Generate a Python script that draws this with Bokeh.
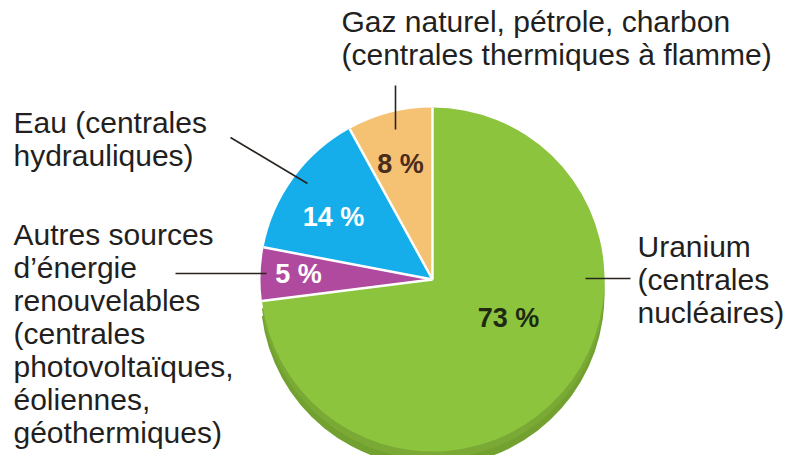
import numpy as np
from bokeh.plotting import figure
from bokeh.models import Range1d, ColumnDataSource
from bokeh.core.properties import value
from bokeh.embed import file_html
from bokeh.resources import INLINE

# ---- data (clockwise from 12 o'clock) ----
categories = ["Uranium", "Autres sources", "Eau", "Gaz naturel"]
shares = [73, 5, 14, 8]
pct_labels = ["73 %", "5 %", "14 %", "8 %"]
slice_colors = ["#8cc43e", "#b04a9e", "#16aeea", "#f5c274"]
pct_colors = ["#1e2a12", "#ffffff", "#ffffff", "#4a2c1c"]

label_lines = {
    "Gaz naturel": ["Gaz naturel, pétrole, charbon", "(centrales thermiques à flamme)"],
    "Eau": ["Eau (centrales", "hydrauliques)"],
    "Autres sources": ["Autres sources", "d\u2019énergie", "renouvelables", "(centrales",
                       "photovoltaïques,", "éoliennes,", "géothermiques)"],
    "Uranium": ["Uranium", "(centrales", "nucléaires)"],
}

# ---- layout (picture pixels, origin top-left) ----
W, H = 787, 455
def Y(py):
    return H - py

CX, CY, R = 432, 279, 172
DEPTH = 15
FS = 30
# (left x, first baseline y)
label_pos = {"Gaz naturel": (341, 32), "Eau": (13, 133), "Autres sources": (13, 245), "Uranium": (637, 257)}
LINE_STEP = 33
MID_SHIFT = 11   # baseline -> visual middle of capitals
pct_pos = [(508, 317), (298, 273), (333, 216), (400, 163)]
leaders = [((395, 85), (395, 129)), ((230, 137), (307, 183)),
           ((175, 273), (266, 273)), ((585, 278), (630, 278))]

p = figure(width=W, height=H, x_range=Range1d(0, W), y_range=Range1d(0, H),
           output_backend="svg", toolbar_location=None, min_border=0,
           x_axis_type=None, y_axis_type=None)
p.grid.visible = False
p.outline_line_color = None
p.background_fill_color = "white"
p.border_fill_color = "white"

vals = np.array(shares, dtype=float)
cum = np.concatenate([[0], np.cumsum(vals)]) / vals.sum()
starts = np.pi / 2 - 2 * np.pi * cum[:-1]
ends = np.pi / 2 - 2 * np.pi * cum[1:]

# 3D side (thickness) under the big slice
p.wedge(x=CX, y=Y(CY + DEPTH), radius=R, start_angle=starts[0], end_angle=ends[0],
        direction="clock", fill_color="#72a130", line_color=None)
p.wedge(x=CX, y=Y(CY + DEPTH * 0.5), radius=R, start_angle=starts[0], end_angle=ends[0],
        direction="clock", fill_color="#7aaa35", line_color=None)

src = ColumnDataSource(dict(start=starts, end=ends, color=slice_colors, cat=categories))
p.wedge(x=CX, y=Y(CY), radius=R, start_angle="start", end_angle="end", direction="clock",
        fill_color="color", line_color=None, source=src)

# white separators between slices
p.ray(x=[CX] * len(starts), y=[Y(CY)] * len(starts), length=R, angle=list(starts),
      line_color="white", line_width=2.5)

# leader lines
p.segment(x0=[a[0] for a, b in leaders], y0=[Y(a[1]) for a, b in leaders],
          x1=[b[0] for a, b in leaders], y1=[Y(b[1]) for a, b in leaders],
          line_color="#2a2420", line_width=1.6)

# percent labels
p.text(x=[q[0] for q in pct_pos], y=[Y(q[1]) for q in pct_pos], text=pct_labels,
       text_color=pct_colors, text_font=value("Liberation Sans"), text_font_style="bold",
       text_font_size="27px", text_align="center", text_baseline="middle")

# category labels
xs, ys, ts = [], [], []
for cat in categories:
    x0, y0 = label_pos[cat]
    for i, line in enumerate(label_lines[cat]):
        xs.append(x0)
        ys.append(Y(y0 + i * LINE_STEP - MID_SHIFT))
        ts.append(line)
p.text(x=xs, y=ys, text=ts, text_color="#231f20", text_font=value("Liberation Sans"),
       text_font_size=f"{FS}px", text_align="left", text_baseline="middle")

open("out.html", "w").write(file_html(p, INLINE))
